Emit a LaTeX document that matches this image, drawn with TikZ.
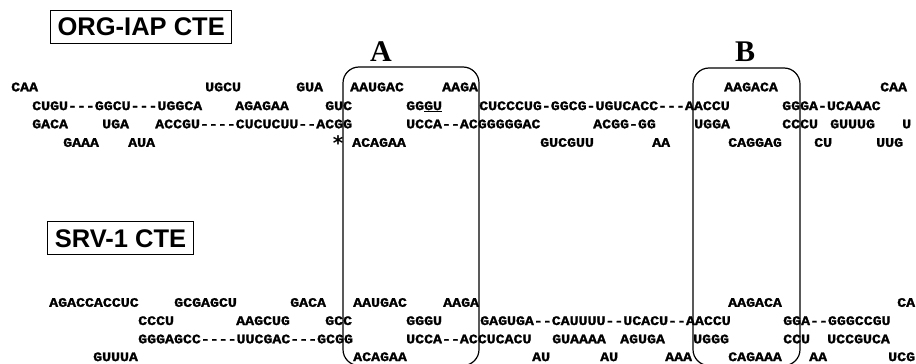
\documentclass[tikz,border=0pt]{standalone}
\usepackage{fontspec}
\newfontfamily\seqfont[FakeStretch=1.147,FakeBold=1.6]{Liberation Mono}
\newfontfamily\labfont{Liberation Serif}
\newfontfamily\titfont{Liberation Sans}
\newfontfamily\symfont{DejaVu Sans}
\tikzset{
  seq/.style={anchor=base west, inner sep=0pt, font=\seqfont\bfseries\fontsize{13}{13}\selectfont},
  boxlabel/.style={inner sep=0pt, font=\labfont\bfseries\fontsize{30}{30}\selectfont},
  title/.style={draw, line width=1.1pt, inner xsep=3pt, inner ysep=4pt, minimum height=33pt, font=\titfont\bfseries\fontsize{25.5}{25.5}\selectfont},
  regionbox/.style={draw, line width=1.2pt, rounded corners=16pt},
  astmark/.style={inner sep=0pt, font=\symfont\bfseries\fontsize{20}{20}\selectfont}
}
\newcommand\sq[4]{\node[seq] (#1) at (#2,#3+3.8) {#4};}
\begin{document}
\begin{tikzpicture}[x=1pt,y=-1pt]
\useasboundingbox (0,0) rectangle (916,364);
% titles
\node[title, minimum width=181pt] (torg) at (141.2,26.7) {ORG-IAP CTE};
\node[title, minimum width=145.6pt] (tsrv) at (120.5,238.4) {SRV-1 CTE};
% region labels
\node[boxlabel] (la) at (381,52) {A};
\node[boxlabel] (lb) at (745,52) {B};
% region boxes
\draw[regionbox] (343,67) rectangle (479,365.5);
\draw[regionbox] (693,68) rectangle (800,365.5);
% ORG-IAP rows
\sq{o1a}{11}{87.5}{CAA}
\sq{o1b}{205}{87.5}{UGCU}
\sq{o1c}{296}{87.5}{GUA}
\sq{o1d}{350}{87.5}{AAUGAC}
\sq{o1e}{442}{87.5}{AAGA}
\sq{o1f}{724}{87.5}{AAGACA}
\sq{o1g}{880}{87.5}{CAA}
\sq{o2a}{32}{106.3}{CUGU---GGCU---UGGCA}
\sq{o2b}{235}{106.3}{AGAGAA}
\sq{o2c}{325}{106.3}{GUC}
\sq{o2d}{406}{106.3}{GG\underline{GU}}
\sq{o2e}{479}{106.3}{CUCCCUG-GGCG-UGUCACC---AACCU}
\sq{o2f}{782}{106.3}{GGGA-UCAAAC}
\sq{o3a}{32}{124.5}{GACA}
\sq{o3b}{102}{124.5}{UGA}
\sq{o3c}{155}{124.5}{ACCGU----CUCUCUU--ACGG}
\sq{o3d}{406}{124.5}{UCCA--ACGGGGGAC}
\sq{o3e}{593}{124.5}{ACGG-GG}
\sq{o3f}{694}{124.5}{UGGA}
\sq{o3g}{782}{124.5}{CCCU}
\sq{o3h}{830}{124.5}{GUUUG}
\sq{o3i}{902}{124.5}{U}
\sq{o4a}{63}{143}{GAAA}
\sq{o4b}{128}{143}{AUA}
\node[astmark] (ast) at (338,143) {*};
\sq{o4c}{352}{143}{ACAGAA}
\sq{o4d}{540}{143}{GUCGUU}
\sq{o4e}{652}{143}{AA}
\sq{o4f}{728}{143}{CAGGAG}
\sq{o4g}{814}{143}{CU}
\sq{o4h}{876}{143}{UUG}
% SRV-1 rows
\sq{s1a}{49}{303}{AGACCACCUC}
\sq{s1b}{174}{303}{GCGAGCU}
\sq{s1c}{290}{303}{GACA}
\sq{s1d}{353}{303}{AAUGAC}
\sq{s1e}{443}{303}{AAGA}
\sq{s1f}{728}{303}{AAGACA}
\sq{s1g}{897}{303}{CA}
\sq{s2a}{138}{321.2}{CCCU}
\sq{s2b}{236}{321.2}{AAGCUG}
\sq{s2c}{325}{321.2}{GCC}
\sq{s2d}{406}{321.2}{GGGU}
\sq{s2e}{480}{321.2}{GAGUGA--CAUUUU--UCACU--AACCU}
\sq{s2f}{783}{321.2}{GGA--GGGCCGU}
\sq{s3a}{138}{339.5}{GGGAGCC----UUCGAC---GCGG}
\sq{s3b}{406}{339.5}{UCCA--ACCUCACU}
\sq{s3c}{552}{339.5}{GUAAAA}
\sq{s3d}{620}{339.5}{AGUGA}
\sq{s3e}{693}{339.5}{UGGG}
\sq{s3f}{783}{339.5}{CCU}
\sq{s3g}{827}{339.5}{UCCGUCA}
\sq{s4a}{93}{357.3}{GUUUA}
\sq{s4b}{353}{357.3}{ACAGAA}
\sq{s4c}{532}{357.3}{AU}
\sq{s4d}{600}{357.3}{AU}
\sq{s4e}{665}{357.3}{AAA}
\sq{s4f}{728}{357.3}{CAGAAA}
\sq{s4g}{809}{357.3}{AA}
\sq{s4h}{888}{357.3}{UCG}
\end{tikzpicture}
\end{document}
